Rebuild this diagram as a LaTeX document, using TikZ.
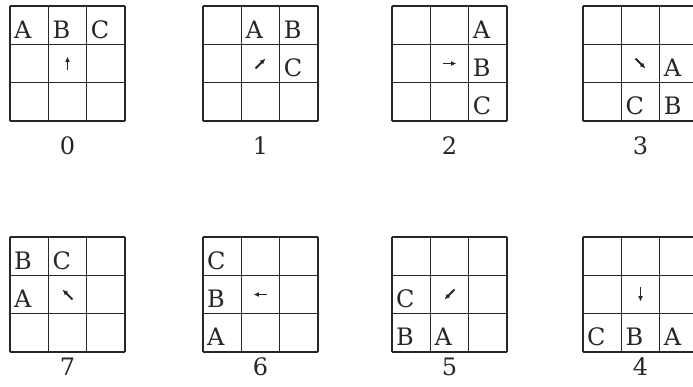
\documentclass[tikz,border=0pt]{standalone}
\usepackage{fontspec}
\setmainfont{DejaVu Serif}
\usepackage{tikz}
\usetikzlibrary{arrows.meta,calc}
\tikzset{
  gridln/.style = {line width=1.4pt,draw=black!85},
  ltr/.style    = {font=\fontsize{24}{28}\selectfont,inner sep=0pt,
                   anchor=base west,text=black!85},
  numlbl/.style = {font=\fontsize{24}{28}\selectfont,inner sep=0pt,
                   text=black!85},
  turn/.style   = {-{Latex[length=5.5pt,width=5pt]},line width=1.8pt,
                   draw=black!85},
}
\newcommand{\cw}{38.33}
% name, x, y, cells of A, B, C (col/row from top), arrow angle
\newcommand{\board}[7]{%
  \begin{scope}[shift={(#2,#3)}]
    \foreach \k in {0,...,3} {
      \draw[gridln] ({\k*\cw},0) -- ({\k*\cw},{3*\cw});
      \draw[gridln] (0,{\k*\cw}) -- ({3*\cw},{\k*\cw});
    }
    \coordinate (#1-mid) at ({1.5*\cw},{1.5*\cw});
    \draw[turn] ($(#1-mid)+(#7+180:7)$) -- ($(#1-mid)+(#7:7)$);
    \foreach \t/\c/\r in {A/#4,B/#5,C/#6}
      \node[ltr] (#1-\t) at ({\c*\cw+4},{(2-\r)*\cw+6}) {\t};
  \end{scope}%
}

\begin{document}
\begin{tikzpicture}[x=1pt,y=1pt]
  \fill[white] (0,0) rectangle (693,387);
  \useasboundingbox (0,0) rectangle (693,387);

  % top row
  \board{b0}{10}{266}{0/0}{1/0}{2/0}{90}
  \board{b1}{203}{266}{1/0}{2/0}{2/1}{45}
  \board{b2}{392}{266}{2/0}{2/1}{2/2}{0}
  \board{b3}{583}{266}{2/1}{2/2}{1/2}{-45}
  \node[numlbl] (n0) at (67.5,241) {0};
  \node[numlbl] (n1) at (260.5,241) {1};
  \node[numlbl] (n2) at (449.5,241) {2};
  \node[numlbl] (n3) at (640.5,241) {3};

  % bottom row
  \board{b7}{10}{35}{0/1}{0/0}{1/0}{135}
  \board{b6}{203}{35}{0/2}{0/1}{0/0}{180}
  \board{b5}{392}{35}{1/2}{0/2}{0/1}{225}
  \board{b4}{583}{35}{2/2}{1/2}{0/2}{270}
  \node[numlbl] (n7) at (67.5,20) {7};
  \node[numlbl] (n6) at (260.5,20) {6};
  \node[numlbl] (n5) at (449.5,20) {5};
  \node[numlbl] (n4) at (640.5,20) {4};
\end{tikzpicture}
\end{document}
